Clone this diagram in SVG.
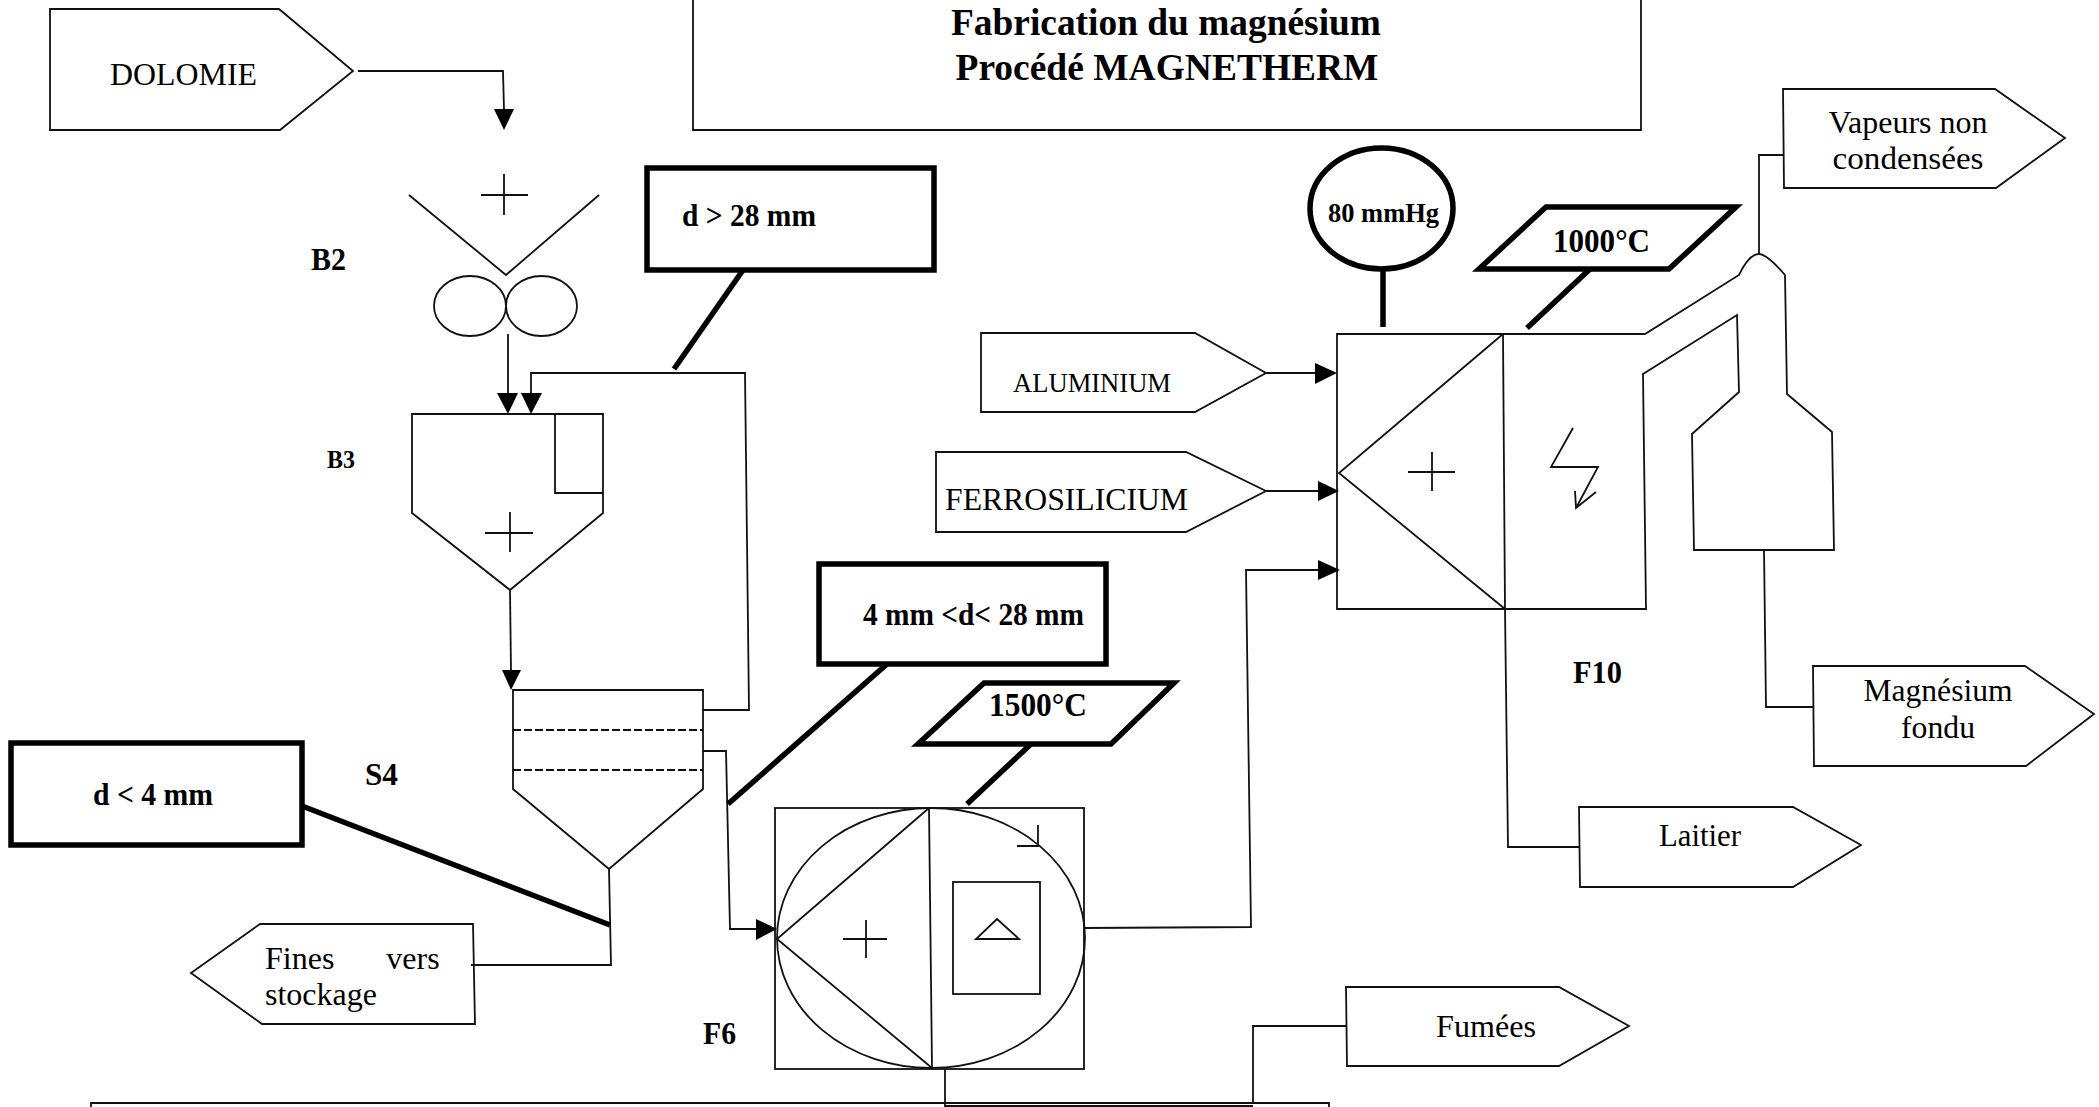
<svg xmlns="http://www.w3.org/2000/svg" width="2099" height="1107" viewBox="0 0 2099 1107">
<defs>
<style>
.s{fill:none;stroke:#111;stroke-width:1.8;stroke-linejoin:miter}
.t{fill:none;stroke:#000;stroke-width:5.5;stroke-linecap:butt}
.tb{fill:#fff;stroke:#000;stroke-width:5.5}
.a{fill:#000;stroke:none}
.d{fill:none;stroke:#111;stroke-width:2;stroke-dasharray:8 3}
text{font-family:"Liberation Serif","Times New Roman",serif;fill:#000;font-size:32px}
.b{font-weight:bold;font-size:31px}
.m{text-anchor:middle}
</style>
</defs>
<rect width="2099" height="1107" fill="#fff"/>
<g id="connectors">
<path class="s" d="M358 71H503L504 110"/><path class="a" d="M494 109H514L504 130Z"/>
<path class="s" d="M508 334V395"/><path class="a" d="M497 393H518L508 414Z"/>
<path class="s" d="M703 710H749L745 373H531V395"/><path class="a" d="M521 393H542L531 414Z"/>
<path class="s" d="M510 590L511 672"/><path class="a" d="M502 670H521L511 690Z"/>
<path class="s" d="M703 751H726L730 929H758"/><path class="a" d="M756 919V940L777 929Z"/>
<path class="s" d="M609 869L611 965H471"/>
<path class="s" d="M1085 928L1251 927L1246 570H1320"/><path class="a" d="M1318 560V580L1340 570Z"/>
<path class="s" d="M1266 373H1318"/><path class="a" d="M1315 363V384L1337 373Z"/>
<path class="s" d="M1266 491H1320"/><path class="a" d="M1318 481V501L1339 491Z"/>
<path class="s" d="M1505 609L1508 847H1579"/>
<path class="s" d="M1764 550L1766 707H1813"/>
<path class="s" d="M1783 155H1759V254"/>
<path class="s" d="M945 1069V1107"/>
<path class="s" d="M1253 1102V1026H1346"/>
<path class="t" d="M743 270L674 369"/>
<path class="t" d="M887 664L728 804"/>
<path class="t" d="M1031 744L967 804"/>
<path class="t" d="M302 806L610 925"/>
<path class="t" d="M1383 269V327"/>
<path class="t" d="M1590 269L1527 328"/>
</g>
<g id="title"><path class="s" d="M693 0V130H1641V0"/>
<text class="b m" style="font-size:38px" x="1166" y="35" textLength="430" lengthAdjust="spacingAndGlyphs">Fabrication du magnésium</text>
<text class="b m" style="font-size:38px" x="1167" y="80" textLength="423" lengthAdjust="spacingAndGlyphs">Procédé MAGNETHERM</text></g>
<g id="dolomie"><path class="s" d="M50 9H279L353 71L280 130H50Z"/><text x="110" y="85" textLength="147" lengthAdjust="spacingAndGlyphs">DOLOMIE</text></g>
<g id="b2"><path class="s" d="M409 195L506 275L599 195"/><path class="s" d="M481 195H528M504 174V215"/>
<ellipse class="s" cx="470" cy="306" rx="36" ry="30"/><ellipse class="s" cx="541.500" cy="306" rx="35.500" ry="30"/>
<text class="b" x="311" y="270" textLength="35" lengthAdjust="spacingAndGlyphs">B2</text></g>
<g id="b3"><path class="s" d="M412 414H603V513L510 590L412 513Z"/><path class="s" d="M555 414V493H603"/><path class="s" d="M485 533H533M510 512V552"/>
<text class="b" style="font-size:25px" x="327" y="468" textLength="28" lengthAdjust="spacingAndGlyphs">B3</text></g>
<g id="s4"><path class="s" d="M513 690H703V789L609 869L513 789Z"/><path class="d" d="M513 730H703M513 770H703"/>
<text class="b" x="365" y="785" textLength="33" lengthAdjust="spacingAndGlyphs">S4</text></g>
<g id="f6"><rect class="s" x="775" y="808" width="309" height="261"/><ellipse class="s" cx="931" cy="938" rx="154" ry="130"/>
<path class="s" d="M929 808L777 939L932 1068M929 808L932 1068"/><path class="s" d="M843 939H887M866 920V958"/>
<rect class="s" x="953" y="882" width="87" height="112"/><path class="s" d="M997 919L976 939H1019Z"/><path class="s" d="M1038 825V846H1017"/>
<text class="b" x="703" y="1044" textLength="33" lengthAdjust="spacingAndGlyphs">F6</text></g>
<g id="f10"><path class="s" d="M1337 334H1645L1739 275Q1749 254 1759 254Q1767 254 1785 275L1787 394L1832 432L1834 550H1694L1692 434L1739 392L1737 315L1643 374L1646 609H1337Z"/>
<path class="s" d="M1503 334L1339 473L1505 609M1503 334L1505 609"/><path class="s" d="M1408 472H1455M1432 452V491"/>
<path class="s" d="M1573 428L1551 467H1598L1576 508M1575 491L1576 508L1596 492"/>
<text class="b" x="1573" y="683" textLength="49" lengthAdjust="spacingAndGlyphs">F10</text></g>
<g id="d-gt-28"><rect class="tb" x="647" y="168" width="287" height="102"/><text class="b" x="682" y="226" textLength="134" lengthAdjust="spacingAndGlyphs">d &gt; 28 mm</text></g>
<g id="d-4-28"><rect class="tb" x="819" y="564" width="287" height="100"/><text class="b" x="863" y="625" textLength="221" lengthAdjust="spacingAndGlyphs">4 mm &lt;d&lt; 28 mm</text></g>
<g id="d-lt-4"><rect class="tb" x="11" y="743" width="291" height="102"/><text class="b" x="93" y="805" textLength="120" lengthAdjust="spacingAndGlyphs">d &lt; 4 mm</text></g>
<g id="t1500"><path class="tb" d="M918 744L984 683H1174L1111 744Z"/><text class="b" style="font-size:33px" x="989" y="716" textLength="98" lengthAdjust="spacingAndGlyphs">1500°C</text></g>
<g id="t1000"><path class="tb" d="M1479 269L1546 207H1736L1669 269Z"/><text class="b" style="font-size:33px" x="1553" y="252" textLength="97" lengthAdjust="spacingAndGlyphs">1000°C</text></g>
<g id="p80"><ellipse class="tb" cx="1381.500" cy="208.500" rx="71.500" ry="60.500"/><text class="b" style="font-size:27px" x="1328" y="222" textLength="111" lengthAdjust="spacingAndGlyphs">80 mmHg</text></g>
<g id="aluminium"><path class="s" d="M981 333H1195L1266 373L1195 412H981Z"/><text style="font-size:28px" x="1013" y="392" textLength="158" lengthAdjust="spacingAndGlyphs">ALUMINIUM</text></g>
<g id="ferrosilicium"><path class="s" d="M936 452H1186L1266 491L1186 532H936Z"/><text x="945" y="510" textLength="243" lengthAdjust="spacingAndGlyphs">FERROSILICIUM</text></g>
<g id="vapeurs"><path class="s" d="M1783 89H1995L2065 138L1996 188H1784Z"/><text class="m" x="1908" y="133" textLength="159" lengthAdjust="spacingAndGlyphs">Vapeurs non</text><text class="m" x="1908" y="169" textLength="151" lengthAdjust="spacingAndGlyphs">condensées</text></g>
<g id="magnesium"><path class="s" d="M1813 666H2025L2094 714L2026 766H1814Z"/><text class="m" x="1938" y="701" textLength="149" lengthAdjust="spacingAndGlyphs">Magnésium</text><text class="m" x="1938" y="738" textLength="74" lengthAdjust="spacingAndGlyphs">fondu</text></g>
<g id="laitier"><path class="s" d="M1579 807H1793L1861 845L1793 887H1580Z"/><text x="1659" y="846" textLength="82" lengthAdjust="spacingAndGlyphs">Laitier</text></g>
<g id="fumees"><path class="s" d="M1346 987H1559L1629 1026L1559 1066H1347Z"/><text x="1436" y="1037" textLength="100" lengthAdjust="spacingAndGlyphs">Fumées</text></g>
<g id="fines"><path class="s" d="M191 973L260 924H473L475 1024H262Z"/><text x="265" y="969" style="word-spacing:44px">Fines vers</text><text x="265" y="1005" textLength="112" lengthAdjust="spacingAndGlyphs">stockage</text></g>
<g id="bottom-box"><path class="s" d="M91 1107V1103H1329V1107"/><path class="s" d="M945 1106H1253"/></g>
</svg>
